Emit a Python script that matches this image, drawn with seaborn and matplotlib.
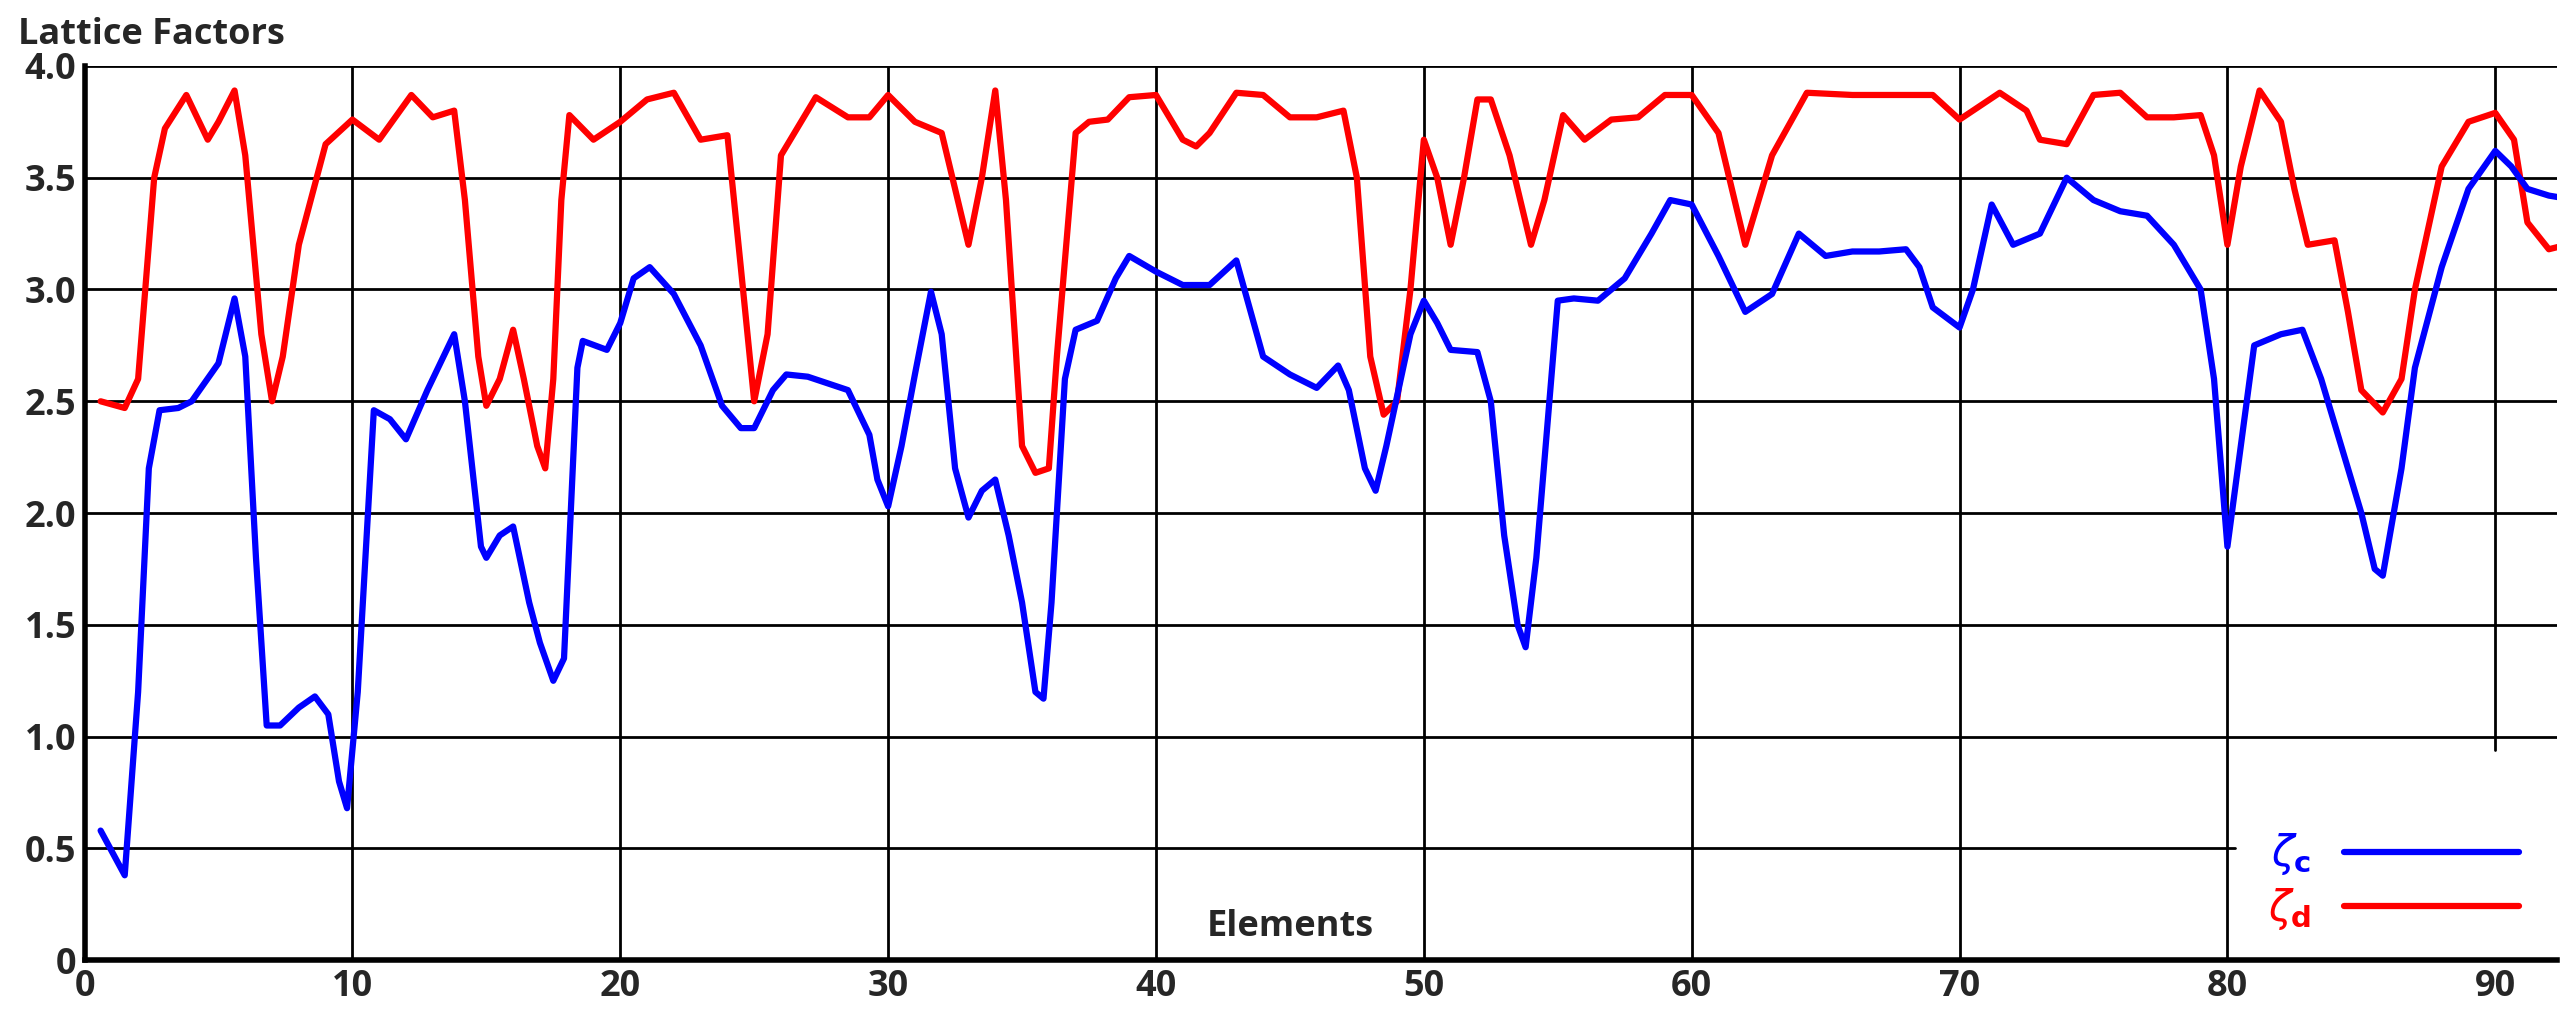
import pandas as pd
import seaborn as sns
import matplotlib.pyplot as plt
from matplotlib.lines import Line2D

zeta_d_x = [0.6, 1.5, 2.0, 2.6, 3.0, 3.8, 4.6, 5.0, 5.6, 6.0, 6.6, 7.0, 7.4, 8.0, 9.0, 10.0, 11.0, 12.2, 13.0, 13.8,
            14.2, 14.7, 15.0, 15.5, 16.0, 16.4, 16.9, 17.2, 17.5, 17.8, 18.1, 19.0, 20.0, 21.0, 22.0, 23.0, 24.0, 24.5,
            25.0, 25.5, 26.0, 27.3, 28.5, 29.3, 30.0, 31.0, 32.0, 32.5, 33.0, 33.5, 34.0, 34.4, 35.0, 35.5, 36.0, 36.3,
            37.0, 37.5, 38.2, 39.0, 40.0, 41.0, 41.5, 42.0, 43.0, 44.0, 45.0, 46.0, 47.0, 47.5, 48.0, 48.5, 49.0, 49.5,
            50.0, 50.5, 51.0, 51.5, 52.0, 52.5, 53.2, 54.0, 54.5, 55.2, 56.0, 57.0, 58.0, 59.0, 60.0, 61.0, 62.0, 63.0,
            64.3, 66.0, 69.0, 70.0, 71.5, 72.5, 73.0, 74.0, 75.0, 76.0, 77.0, 78.0, 79.0, 79.5, 80.0, 80.5, 81.2, 82.0,
            82.5, 83.0, 84.0, 84.5, 85.0, 85.8, 86.5, 87.0, 88.0, 89.0, 90.0, 90.7, 91.2, 92.0, 93.0]
zeta_d = [2.5, 2.47, 2.6, 3.5, 3.72, 3.87, 3.67, 3.75, 3.89, 3.6, 2.8, 2.5, 2.7, 3.2, 3.65, 3.76, 3.67, 3.87, 3.77, 3.8,
          3.4, 2.7, 2.48, 2.6, 2.82, 2.6, 2.3, 2.2, 2.6, 3.4, 3.78, 3.67, 3.75, 3.85, 3.88, 3.67, 3.69, 3.1,
          2.5, 2.8, 3.6, 3.86, 3.77, 3.77, 3.87, 3.75, 3.7, 3.45, 3.2, 3.5, 3.89, 3.4, 2.3, 2.18, 2.2, 2.7,
          3.7, 3.75, 3.76, 3.86, 3.87, 3.67, 3.64, 3.7, 3.88, 3.87, 3.77, 3.77, 3.8, 3.5, 2.7, 2.44, 2.5, 3.0,
          3.67, 3.5, 3.2, 3.5, 3.85, 3.85, 3.6, 3.2, 3.4, 3.78, 3.67, 3.76, 3.77, 3.87, 3.87, 3.7, 3.2, 3.6,
          3.88, 3.87, 3.87, 3.76, 3.88, 3.8, 3.67, 3.65, 3.87, 3.88, 3.77, 3.77, 3.78, 3.6, 3.2, 3.55, 3.89, 3.75,
          3.45, 3.2, 3.22, 2.9, 2.55, 2.45, 2.6, 3.0, 3.55, 3.75, 3.79, 3.67, 3.3, 3.18, 3.21]

zeta_c_x = [0.6, 1.5, 2.0, 2.4, 2.8, 3.5, 4.0, 5.0, 5.6, 6.0, 6.4, 6.8, 7.3, 8.0, 8.6, 9.1, 9.5, 9.8, 10.2, 10.8,
            11.4, 12.0, 12.8, 13.8, 14.2, 14.8, 15.0, 15.5, 16.0, 16.6, 17.0, 17.5, 17.9, 18.4, 18.6, 19.5, 20.0, 20.5,
            21.1, 22.0, 23.0, 23.8, 24.5, 25.0, 25.7, 26.2, 27.0, 28.5, 29.3, 29.6, 30.0, 30.5, 31.0, 31.6, 32.0, 32.5,
            33.0, 33.5, 34.0, 34.5, 35.0, 35.5, 35.8, 36.1, 36.6, 37.0, 37.8, 38.5, 39.0, 40.0, 41.0, 42.0, 43.0, 44.0,
            45.0, 46.0, 46.8, 47.2, 47.8, 48.2, 48.6, 49.5, 50.0, 50.5, 51.0, 52.0, 52.5, 53.0, 53.5, 53.8, 54.2, 55.0,
            55.6, 56.5, 57.5, 58.5, 59.2, 60.0, 61.0, 62.0, 63.0, 64.0, 65.0, 66.0, 67.0, 68.0, 68.5, 69.0, 70.0, 70.5,
            71.2, 72.0, 73.0, 74.0, 75.0, 76.0, 77.0, 78.0, 79.0, 79.5, 80.0, 80.5, 81.0, 82.0, 82.8, 83.5, 84.5, 85.0,
            85.5, 85.8, 86.5, 87.0, 88.0, 89.0, 90.0, 90.6, 91.2, 92.0, 93.0]
zeta_c = [0.58, 0.38, 1.2, 2.2, 2.46, 2.47, 2.5, 2.67, 2.96, 2.7, 1.8, 1.05, 1.05, 1.13, 1.18, 1.1, 0.8, 0.68, 1.2, 2.46,
          2.42, 2.33, 2.55, 2.8, 2.5, 1.85, 1.8, 1.9, 1.94, 1.6, 1.42, 1.25, 1.35, 2.65, 2.77, 2.73, 2.85, 3.05,
          3.1, 2.98, 2.75, 2.48, 2.38, 2.38, 2.55, 2.62, 2.61, 2.55, 2.35, 2.15, 2.03, 2.3, 2.62, 2.99, 2.8, 2.2,
          1.98, 2.1, 2.15, 1.9, 1.6, 1.2, 1.17, 1.6, 2.6, 2.82, 2.86, 3.05, 3.15, 3.08, 3.02, 3.02, 3.13, 2.7,
          2.62, 2.56, 2.66, 2.55, 2.2, 2.1, 2.3, 2.8, 2.95, 2.85, 2.73, 2.72, 2.5, 1.9, 1.5, 1.4, 1.8, 2.95,
          2.96, 2.95, 3.05, 3.25, 3.4, 3.38, 3.15, 2.9, 2.98, 3.25, 3.15, 3.17, 3.17, 3.18, 3.1, 2.92, 2.83, 3.0,
          3.38, 3.2, 3.25, 3.5, 3.4, 3.35, 3.33, 3.2, 3.0, 2.6, 1.85, 2.3, 2.75, 2.8, 2.82, 2.6, 2.2, 2.0,
          1.75, 1.72, 2.2, 2.65, 3.1, 3.45, 3.62, 3.55, 3.45, 3.42, 3.4]

y_ticks = [0, 0.5, 1.0, 1.5, 2.0, 2.5, 3.0, 3.5, 4.0]
y_tick_labels = ['0', '0.5', '1.0', '1.5', '2.0', '2.5', '3.0', '3.5', '4.0']
x_ticks = [0, 10, 20, 30, 40, 50, 60, 70, 80, 90]

sns.set_style('white')
plt.rcParams['font.family'] = ['Open Sans', 'DejaVu Sans']

fig = plt.figure(figsize=(25.62, 10.14), dpi=100)
ax = fig.add_axes([0.033, 0.053, 0.965, 0.882])

# grid drawn by hand: some lines stop short in the original
for y in y_ticks[1:]:
    ax.axhline(y, color='black', lw=2, xmax=0.87 if y == 0.5 else 1, zorder=0)
for x in x_ticks[1:-1]:
    ax.axvline(x, color='black', lw=2, zorder=0)
ax.axvline(90, color='black', lw=2, ymin=0.235, ymax=1, zorder=0)

df_c = pd.DataFrame({'x': zeta_c_x, 'y': zeta_c})
df_d = pd.DataFrame({'x': zeta_d_x, 'y': zeta_d})
sns.lineplot(data=df_d, x='x', y='y', ax=ax, color='#ff0000', lw=4.5,
             solid_joinstyle='round', solid_capstyle='round')
sns.lineplot(data=df_c, x='x', y='y', ax=ax, color='#0000ff', lw=4.5,
             solid_joinstyle='round', solid_capstyle='round')

ax.set_xlim(0, 92.3)
ax.set_ylim(0, 4.0)
ax.set_xticks(x_ticks)
ax.set_yticks(y_ticks)
ax.set_yticklabels(y_tick_labels)
ax.tick_params(labelsize=26, length=0, pad=6)
for lab in ax.get_xticklabels() + ax.get_yticklabels():
    lab.set_fontweight('bold')
ax.set_xlabel('')
ax.set_ylabel('')
for s in ['top', 'right']:
    ax.spines[s].set_visible(False)
for s in ['left', 'bottom']:
    ax.spines[s].set_linewidth(4)
    ax.spines[s].set_color('black')

fig.text(0.007, 0.965, 'Lattice Factors', fontsize=26, fontweight='bold', va='center')
ax.text(45.0, 0.15, 'Elements', fontsize=26, fontweight='bold', ha='center', va='center')

handles = [Line2D([], [], color='#0000ff', lw=4.5), Line2D([], [], color='#ff0000', lw=4.5)]
ax.legend(handles, [r'$\zeta_\mathbf{c}$', r'$\zeta_\mathbf{d}$'], loc='lower right',
          bbox_to_anchor=(1.0, -0.01), frameon=False, markerfirst=False, fontsize=30,
          handlelength=4.2, labelcolor='linecolor', labelspacing=0.2)

fig.savefig('out.png', dpi=100)
